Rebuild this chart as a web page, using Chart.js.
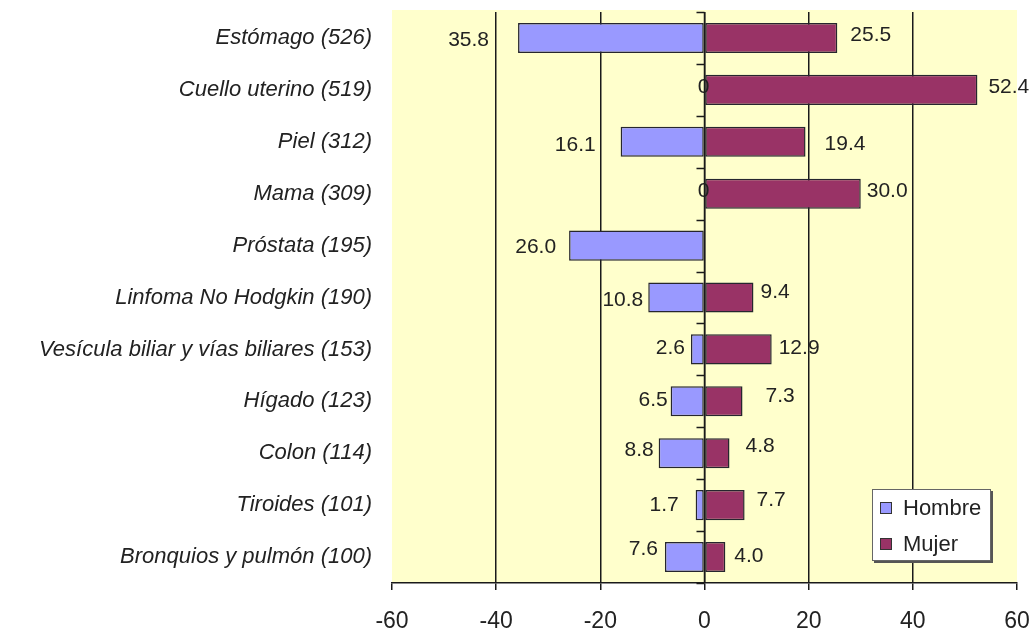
<!DOCTYPE html>
<html>
<head>
<meta charset="utf-8">
<script src="https://cdn.jsdelivr.net/npm/chart.js@4/dist/chart.umd.min.js"></script>
<style>
  html, body { margin: 0; padding: 0; background: #ffffff; }
  canvas { display: block; }
</style>
</head>
<body>
<canvas id="chart" width="1034" height="634"></canvas>
<script>
// Incidence by cancer site, split by sex (men drawn to the left, women to the right)
const categories = [
  'Estómago (526)',
  'Cuello uterino (519)',
  'Piel (312)',
  'Mama (309)',
  'Próstata (195)',
  'Linfoma No Hodgkin (190)',
  'Vesícula biliar y vías biliares (153)',
  'Hígado (123)',
  'Colon (114)',
  'Tiroides (101)',
  'Bronquios y pulmón (100)'
];
const hombre = [35.8, 0, 16.1, 0, 26.0, 10.8, 2.6, 6.5, 8.8, 1.7, 7.6];
const mujer  = [25.5, 52.4, 19.4, 30.0, null, 9.4, 12.9, 7.3, 4.8, 7.7, 4.0];
const seriesNames = ['Hombre', 'Mujer'];
const xTicks = [-60, -40, -20, 0, 20, 40, 60];

// Label nudges (pixels): gap from bar end, and vertical shift
const hombreLabelGap  = [29, -5, 25, -5, 13, 5, 6, 3, 5, 17, 7];
const hombreLabelRise = [2, -3, 3, -2, 2, 3, -1, -1, -3, 0, -8];
const mujerLabelGap   = [13, 11, 19, 6, 0, 7, 7, 23, 16, 12, 9];
const mujerLabelRise  = [-3, -3, 2, -2, 0, -5, -1, -5, -7, -5, -1];

const FONT = '"Liberation Sans", Arial, sans-serif';
const TEXT = '#222222';
const COLORS = { hombre: '#9999ff', mujer: '#993366', edge: '#26262e' };

const fmt = v => (v === 0 ? '0' : v.toFixed(1));

const noScalePadding = scale => {
  scale.paddingLeft = 0;
  scale.paddingRight = 0;
  scale.paddingTop = 0;
  scale.paddingBottom = 0;
};

const plotBackground = {
  id: 'plotBackground',
  beforeDraw(chart) {
    const { ctx, chartArea: a } = chart;
    ctx.save();
    ctx.fillStyle = '#ffffcc';
    ctx.fillRect(a.left, a.top - 2, a.right - a.left, a.bottom - a.top + 2);
    ctx.restore();
  }
};

// Category axis through zero, with boundary tick marks pointing left
const zeroAxis = {
  id: 'zeroAxis',
  afterDatasetsDraw(chart) {
    const { ctx, chartArea: a, scales } = chart;
    const x0 = scales.x.getPixelForValue(0);
    ctx.save();
    ctx.strokeStyle = '#1a1a1a';
    ctx.lineWidth = 1.5;
    ctx.beginPath();
    ctx.moveTo(x0, a.top);
    ctx.lineTo(x0, a.bottom);
    for (let i = 0; i <= categories.length; i++) {
      const y = Math.round(scales.y.getPixelForValue(i - 0.5)) + 0.5;
      ctx.moveTo(x0 - 8, y);
      ctx.lineTo(x0, y);
    }
    ctx.stroke();
    ctx.restore();
  }
};

const valueLabels = {
  id: 'valueLabels',
  afterDatasetsDraw(chart) {
    const { ctx } = chart;
    ctx.save();
    ctx.font = '21px ' + FONT;
    ctx.fillStyle = TEXT;
    ctx.textBaseline = 'middle';
    const mh = chart.getDatasetMeta(0);
    ctx.textAlign = 'right';
    hombre.forEach((v, i) => {
      if (v === null) return;
      const bar = mh.data[i];
      ctx.fillText(fmt(v), bar.x - hombreLabelGap[i], bar.y + hombreLabelRise[i]);
    });
    const mm = chart.getDatasetMeta(1);
    ctx.textAlign = 'left';
    mujer.forEach((v, i) => {
      if (v === null) return;
      const bar = mm.data[i];
      ctx.fillText(fmt(v), bar.x + mujerLabelGap[i], bar.y + mujerLabelRise[i]);
    });
    ctx.restore();
  }
};

const boxLegend = {
  id: 'boxLegend',
  afterDraw(chart) {
    const { ctx, chartArea: a } = chart;
    const w = 119, h = 72;
    const x = a.right - 26 - w, y = a.bottom - 22 - h;
    ctx.save();
    ctx.fillStyle = '#555555';
    ctx.fillRect(x + 2, y + 2, w, h);
    ctx.fillStyle = '#ffffff';
    ctx.fillRect(x, y, w, h);
    ctx.strokeStyle = '#666666';
    ctx.lineWidth = 1;
    ctx.strokeRect(x + 0.5, y + 0.5, w - 1, h - 1);
    ctx.font = '22px ' + FONT;
    ctx.textBaseline = 'middle';
    ctx.textAlign = 'left';
    chart.data.datasets.forEach((ds, i) => {
      const cy = y + 19 + i * 36;
      ctx.fillStyle = ds.backgroundColor;
      ctx.fillRect(x + 8, cy - 6, 12, 12);
      ctx.strokeStyle = '#333333';
      ctx.strokeRect(x + 8.5, cy - 5.5, 11, 11);
      ctx.fillStyle = TEXT;
      ctx.fillText(ds.label, x + 31, cy + 1);
    });
    ctx.restore();
  }
};

new Chart(document.getElementById('chart'), {
  type: 'bar',
  data: {
    labels: categories,
    datasets: [
      {
        label: seriesNames[0],
        data: hombre.map(v => (v === null ? null : -v)),
        backgroundColor: COLORS.hombre,
        borderColor: COLORS.edge,
        borderWidth: 1.5,
        borderSkipped: false
      },
      {
        label: seriesNames[1],
        data: mujer,
        backgroundColor: COLORS.mujer,
        borderColor: COLORS.edge,
        borderWidth: 1.5,
        borderSkipped: false
      }
    ]
  },
  options: {
    indexAxis: 'y',
    responsive: false,
    animation: false,
    devicePixelRatio: 1,
    layout: { padding: { top: 12, right: 17, left: 0, bottom: 0 } },
    categoryPercentage: 1,
    barPercentage: 0.58,
    plugins: {
      legend: { display: false },
      tooltip: { enabled: false }
    },
    scales: {
      x: {
        type: 'linear',
        stacked: true,
        min: -60,
        max: 60,
        afterBuildTicks(scale) { scale.ticks = xTicks.map(v => ({ value: v })); },
        afterFit(scale) { scale.height = 51; noScalePadding(scale); },
        ticks: {
          color: TEXT,
          font: { family: FONT, size: 23 },
          padding: 18,
          maxRotation: 0,
          callback: v => String(v)
        },
        grid: {
          drawOnChartArea: true,
          drawTicks: true,
          tickLength: 7,
          lineWidth: 1.5,
          color: ctx => (ctx.tick && Math.abs(ctx.tick.value) === 60 ? 'rgba(0,0,0,0)' : '#1a1a1a'),
          tickColor: '#1a1a1a'
        },
        border: { display: true, color: '#1a1a1a', width: 1.5 }
      },
      y: {
        type: 'category',
        stacked: true,
        afterFit(scale) { scale.width = 392; noScalePadding(scale); },
        ticks: {
          color: TEXT,
          font: { family: FONT, size: 22, style: 'italic' },
          padding: 20,
          autoSkip: false
        },
        grid: { display: false, drawTicks: false, tickLength: 0 },
        border: { display: false }
      }
    }
  },
  plugins: [plotBackground, zeroAxis, valueLabels, boxLegend]
});
</script>
</body>
</html>
